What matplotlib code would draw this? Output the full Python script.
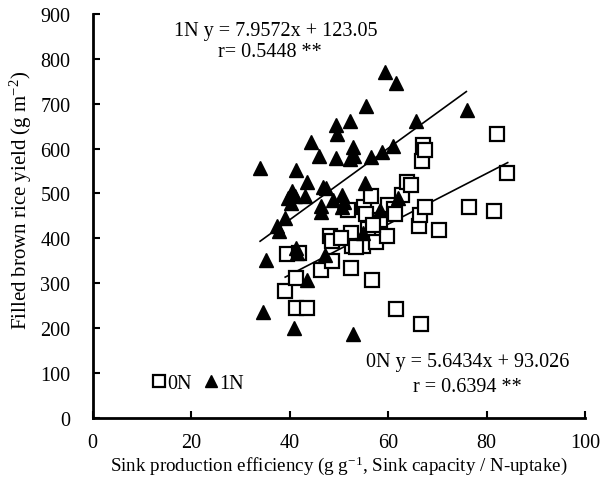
import matplotlib
matplotlib.use("Agg")
import numpy as np
import matplotlib.pyplot as plt

# 0N plots (open squares)
x_0n = [39.1, 39.5, 41.3, 41.3, 42.0, 43.5, 46.3, 48.1, 48.7, 48.6, 51.9, 52.4, 52.4, 52.6,
        54.9, 55.2, 55.6, 55.9, 56.5, 56.7, 57.6, 58.3, 59.7, 59.9, 61.3, 61.7, 62.8, 63.9,
        64.6, 66.2, 66.4, 66.6, 66.9, 67.1, 67.4, 67.6, 70.4, 76.4, 81.6, 82.2, 84.2, 50.5,
        53.5, 61.5, 57.0]
y_0n = [283, 365, 311, 244, 367, 244, 330, 405, 395, 349, 464, 411, 335, 382,
        382, 471, 454, 421, 495, 308, 391, 441, 405, 475, 466, 243, 497, 526,
        519, 428, 451, 209, 573, 608, 596, 471, 419, 471, 460, 633, 546, 400,
        380, 455, 430]

# 1N plots (filled triangles)
x_1n = [34.0, 34.5, 35.3, 37.4, 37.8, 39.1, 39.7, 40.2, 40.5, 41.0, 41.3, 40.9, 41.3, 41.4,
        43.1, 43.6, 43.6, 44.3, 46.0, 46.3, 46.3, 46.7, 47.1, 47.3, 49.5, 49.6, 49.5, 48.9,
        50.6, 51.0, 50.6, 52.2, 52.8, 52.2, 53.1, 52.8, 55.6, 55.3, 56.5, 54.9, 58.4, 58.8,
        59.3, 61.7, 61.0, 62.1, 65.6, 76.1]
y_1n = [556, 235, 352, 428, 417, 446, 491, 479, 505, 494, 552, 200, 378, 368,
        494, 525, 307, 615, 584, 473, 458, 515, 364, 512, 653, 633, 580, 486,
        497, 480, 469, 661, 604, 577, 584, 186, 694, 523, 581, 411, 463, 593,
        770, 745, 606, 490, 662, 686]

# regression coefficients and x range of each fitted line
fit_0n = (5.6434, 93.026)
fit_1n = (7.9572, 123.05)
range_0n = [39.1, 84.3]
range_1n = [34.0, 75.9]

plt.rcParams['font.family'] = ['Liberation Serif', 'DejaVu Serif']
plt.rcParams['mathtext.fontset'] = 'custom'
plt.rcParams['mathtext.rm'] = 'Liberation Serif'
plt.rcParams['mathtext.it'] = 'Liberation Serif:italic'

fig = plt.figure(figsize=(6.10, 4.81), dpi=100)
ax = fig.add_axes([0.152, 0.129, 0.807, 0.840])

ax.plot(x_0n, y_0n, 's', ms=10, mfc='white', mec='black', mew=1.6, label='0N', zorder=3)
ax.plot(x_1n, y_1n, '^', ms=10, mfc='black', mec='black', label='1N', zorder=3)

for (a, b), xr in [(fit_0n, range_0n), (fit_1n, range_1n)]:
    xs = np.array(xr)
    ax.plot(xs, a * xs + b, color='black', lw=1.2, zorder=2)

ax.set_xlim(0, 100)
ax.set_ylim(0, 900)
ax.set_xticks(range(0, 101, 20))
ax.set_yticks(range(0, 901, 100))
for s in ['top', 'right']:
    ax.spines[s].set_visible(False)
for s in ['left', 'bottom']:
    ax.spines[s].set_linewidth(2)
ax.tick_params(direction='in', width=1.5, length=5, labelsize=14.5)
ax.tick_params(axis='y', pad=16)
ax.tick_params(axis='x', pad=11)

ax.set_xlabel('Sink production efficiency (g g$^{-1}$, Sink capacity / N-uptake)', fontsize=13.7, labelpad=1)
ax.set_ylabel('Filled brown rice yield (g m$^{-2}$)', fontsize=15)
ax.yaxis.set_label_coords(-0.12, 0.54)

ax.text(37.2, 862, '1N y = 7.9572x + 123.05', ha='center', va='center', fontsize=14.5)
ax.text(35.9, 817, 'r= 0.5448 **', ha='center', va='center', fontsize=14.5)
ax.text(76.1, 125, '0N y = 5.6434x + 93.026', ha='center', va='center', fontsize=14.5)
ax.text(76.1, 71, 'r = 0.6394 **', ha='center', va='center', fontsize=14.5)

ax.legend(loc='center left', bbox_to_anchor=(0.119, 0.085), ncol=2, frameon=False,
          fontsize=14.5, handletextpad=0.0, columnspacing=0.55, handlelength=0.8,
          borderpad=0, borderaxespad=0, markerscale=0.8)

fig.savefig('out.png', dpi=100)
